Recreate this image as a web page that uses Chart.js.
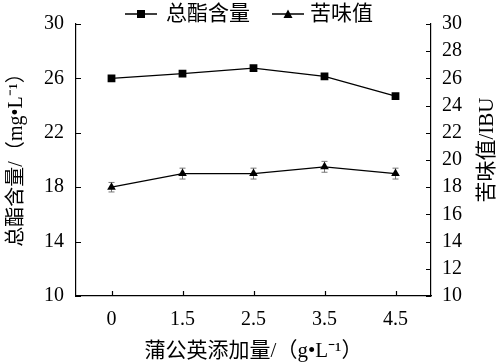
<!DOCTYPE html>
<html>
<head>
<meta charset="utf-8">
<script src="https://cdn.jsdelivr.net/npm/chart.js@4/dist/chart.umd.min.js"></script>
<style>
  html, body { margin: 0; padding: 0; background: #fff; }
  #wrap { width: 502px; height: 364px; }
</style>
</head>
<body>
<div id="wrap"><canvas id="chart" width="502" height="364"></canvas></div>
<script>
// data
var doses = ['0', '1.5', '2.5', '3.5', '4.5'];
var esterValues = [26.0, 26.35, 26.75, 26.15, 24.7];
var esterErrors = [0.15, 0.15, 0.15, 0.15, 0.15];
var bitterValues = [18.0, 19.0, 19.0, 19.5, 19.0];
var bitterErrors = [0.35, 0.4, 0.4, 0.4, 0.4];
var leftTicks = [10, 14, 18, 22, 26, 30];
var rightTicks = [10, 12, 14, 16, 18, 20, 22, 24, 26, 28, 30];

var FONT = '"Liberation Serif", "Noto Sans CJK SC", serif';

// error bars, inward ticks, legend and the two y titles
var extras = {
  id: 'extras',
  beforeDatasetsDraw: function(chart) {
    var ctx = chart.ctx;
    var x = chart.scales.x, yl = chart.scales.y, yr = chart.scales.y2;
    ctx.save();
    ctx.strokeStyle = '#777';
    ctx.lineWidth = 1;
    [[esterValues, esterErrors, yl], [bitterValues, bitterErrors, yr]].forEach(function(s) {
      s[0].forEach(function(v, i) {
        var px = x.getPixelForValue(i);
        var top = s[2].getPixelForValue(v + s[1][i]);
        var bot = s[2].getPixelForValue(v - s[1][i]);
        ctx.beginPath();
        ctx.moveTo(px, top); ctx.lineTo(px, bot);
        ctx.moveTo(px - 3, top); ctx.lineTo(px + 3, top);
        ctx.moveTo(px - 3, bot); ctx.lineTo(px + 3, bot);
        ctx.stroke();
      });
    });
    ctx.restore();
  },
  afterDraw: function(chart) {
    var ctx = chart.ctx;
    var a = chart.chartArea;
    var x = chart.scales.x, yl = chart.scales.y, yr = chart.scales.y2;
    ctx.save();
    ctx.strokeStyle = '#000';
    ctx.lineWidth = 1.2;
    ctx.beginPath();
    leftTicks.forEach(function(v) {
      var py = Math.round(yl.getPixelForValue(v)) + 0.5;
      ctx.moveTo(a.left, py); ctx.lineTo(a.left + 5, py);
    });
    rightTicks.forEach(function(v) {
      var py = Math.round(yr.getPixelForValue(v)) + 0.5;
      ctx.moveTo(a.right, py); ctx.lineTo(a.right - 5, py);
    });
    doses.forEach(function(d, i) {
      var px = Math.round(x.getPixelForValue(i)) + 0.5;
      ctx.moveTo(px, a.bottom); ctx.lineTo(px, a.bottom - 5);
    });
    ctx.stroke();

    // legend
    var ly = 14;
    ctx.lineWidth = 1.5;
    ctx.beginPath();
    ctx.moveTo(125, ly); ctx.lineTo(157, ly);
    ctx.moveTo(272, ly); ctx.lineTo(304, ly);
    ctx.stroke();
    ctx.fillStyle = '#000';
    ctx.fillRect(137, ly - 4, 8, 8);
    ctx.beginPath();
    ctx.moveTo(288, ly - 4.5); ctx.lineTo(292.5, ly + 4); ctx.lineTo(283.5, ly + 4);
    ctx.closePath(); ctx.fill();
    ctx.font = '21px ' + FONT;
    ctx.textAlign = 'left';
    ctx.textBaseline = 'middle';
    ctx.fillText(chart.data.datasets[0].label, 166, ly);
    ctx.fillText(chart.data.datasets[1].label, 310, ly);

    // y titles, both reading bottom to top
    ctx.textAlign = 'center';
    ctx.save();
    ctx.font = '20px ' + FONT;
    ctx.translate(17, 155);
    ctx.rotate(-Math.PI / 2);
    ctx.fillText('总酯含量/（mg•L⁻¹）', 0, 0);
    ctx.restore();
    ctx.font = '21px ' + FONT;
    ctx.translate(487, 150);
    ctx.rotate(-Math.PI / 2);
    ctx.fillText('苦味值/IBU', 0, 0);
    ctx.restore();
  }
};

new Chart(document.getElementById('chart'), {
  type: 'line',
  data: {
    labels: doses,
    datasets: [{
      label: '总酯含量',
      data: esterValues,
      yAxisID: 'y',
      borderColor: '#000',
      backgroundColor: '#000',
      borderWidth: 1.3,
      pointStyle: 'rect',
      pointRadius: 5.5,
      pointBorderWidth: 0,
      tension: 0
    }, {
      label: '苦味值',
      data: bitterValues,
      yAxisID: 'y2',
      borderColor: '#000',
      backgroundColor: '#000',
      borderWidth: 1.3,
      pointStyle: 'triangle',
      pointRadius: 5,
      pointBorderWidth: 0,
      tension: 0
    }]
  },
  options: {
    responsive: false,
    animation: false,
    layout: { padding: { top: 21, right: 0, left: 0, bottom: 0 } },
    plugins: {
      tooltip: { enabled: false },
      legend: { display: false }
    },
    scales: {
      x: {
        type: 'category',
        offset: true,
        grid: { display: false, drawTicks: false },
        border: { display: true, color: '#000', width: 1.2 },
        ticks: { color: '#000', padding: 12, font: { family: FONT, size: 20 } },
        title: {
          display: true,
          text: '蒲公英添加量/（g•L⁻¹）',
          color: '#000',
          font: { family: FONT, size: 21 },
          padding: { top: 2, bottom: 0 }
        },
        afterFit: function(s) { s.height = 68; }
      },
      y: {
        position: 'left',
        min: 10, max: 30,
        grid: { display: false, drawTicks: false },
        border: { display: true, color: '#000', width: 1.2 },
        ticks: {
          color: '#000', padding: 12, stepSize: 4,
          font: { family: FONT, size: 20 }
        },
        afterFit: function(s) { s.width = 76; }
      },
      y2: {
        position: 'right',
        min: 10, max: 30,
        grid: { display: false, drawTicks: false },
        border: { display: true, color: '#000', width: 1.2 },
        ticks: {
          color: '#000', padding: 11, stepSize: 2, autoSkip: false,
          font: { family: FONT, size: 20 }
        },
        afterFit: function(s) { s.width = 71; }
      }
    }
  },
  plugins: [extras]
});
</script>
</body>
</html>
